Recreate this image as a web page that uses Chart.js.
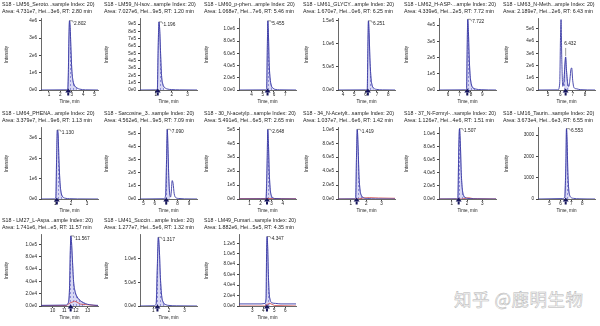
<!DOCTYPE html>
<html>
<head>
<meta charset="utf-8">
<script src="https://cdn.jsdelivr.net/npm/chart.js@4.4.1/dist/chart.umd.min.js"></script>
<style>
  body { margin: 0; background: #fff; width: 600px; height: 326px; overflow: hidden; position: relative; }
  canvas { position: absolute; }
  #mark {
    position: absolute; left: 454px; top: 286px;
    font-family: "Noto Sans CJK SC", sans-serif; font-size: 17.5px; letter-spacing: 0.5px;
    color: #fafafa; -webkit-text-stroke: 0.5px #b4b4b4; white-space: nowrap;
  }
</style>
</head>
<body>
<div id="mark">知乎 @鹿明生物</div>
<script>
// panel headers
const titles = [
  'S18 - LM56_Seroto...sample Index: 20)', 'S18 - LM59_N-Isov...sample Index: 20)',
  'S18 - LM60_p-phen...ample Index: 20)', 'S18 - LM61_GLYCY...ample Index: 20)',
  'S18 - LM62_H-ASP-...ample Index: 20)', 'S18 - LM63_N-Meth...ample Index: 20)',
  'S18 - LM64_PHENA...ample Index: 20)', 'S18 - Sarcosine_3...sample Index: 20)',
  'S18 - 30_N-acetylp...sample Index: 20)', 'S18 - 34_N-Acetylt...sample Index: 20)',
  'S18 - 37_N-Formyl-...sample Index: 20)', 'S18 - LM16_Taurin...sample Index: 20)',
  'S18 - LM27_L-Aspa...ample Index: 20)', 'S18 - LM41_Succin...ample Index: 20)',
  'S18 - LM49_Fumari...sample Index: 20)'
];
const subtitles = [
  'Area: 4.731e7, Hei...3e6, RT: 2.80 min', 'Area: 7.027e6, Hei...9e5, RT: 1.20 min',
  'Area: 1.068e7, Hei...7e6, RT: 5.46 min', 'Area: 1.670e7, Hei...0e6, RT: 6.25 min',
  'Area: 4.339e6, Hei...2e5, RT: 7.72 min', 'Area: 2.189e7, Hei...2e6, RT: 6.43 min',
  'Area: 3.379e7, Hei...9e6, RT: 1.13 min', 'Area: 4.562e6, Hei...9e5, RT: 7.09 min',
  'Area: 5.491e6, Hei...6e5, RT: 2.65 min', 'Area: 1.037e7, Hei...6e6, RT: 1.42 min',
  'Area: 1.126e7, Hei...4e6, RT: 1.51 min', 'Area: 3.673e4, Hei...6e3, RT: 6.55 min',
  'Area: 1.741e6, Hei...e5, RT: 11.57 min', 'Area: 1.277e7, Hei...5e6, RT: 1.32 min',
  'Area: 1.882e6, Hei...5e5, RT: 4.35 min'
];

// axes
const xRanges = [
  [0.3, 5.3], [0, 3.6], [2.9, 7.95], [3.56, 8.6], [5.2, 10.2], [4.2, 8.8],
  [0.1, 3.7], [4.7, 9.7], [0.05, 5.2], [0.17, 3.87], [0.16, 3.9], [3.96, 9.15],
  [9.0, 13.9], [0.14, 3.8], [1.8, 6.96]
];
const xTickValues = [
  [1, 2, 3, 4, 5], [1, 2, 3], [4, 5, 6, 7], [4, 5, 6, 7, 8], [6, 7, 8, 9], [5, 6, 7, 8],
  [1, 2, 3], [5, 6, 7, 8, 9], [1, 2, 3, 4], [1, 2, 3], [1, 2, 3], [5, 6, 7, 8],
  [10, 11, 12, 13], [1, 2, 3], [3, 4, 5, 6]
];
const yMaxes = [4.1e6, 9.7e5, 1.16e6, 1.54e6, 4.37e5, 5.8e6, 3.5e6, 5.4e5, 5.1e5, 1.02e6, 1.08e6, 3330, 1.155e5, 1.5e6, 1.36e5];
const yTickValues = [
  [0, 1e6, 2e6, 3e6, 4e6],
  [0, 1e5, 2e5, 3e5, 4e5, 5e5, 6e5, 7e5, 8e5, 9e5],
  [0, 2e5, 4e5, 6e5, 8e5, 1e6],
  [0, 5e5, 1e6, 1.5e6],
  [0, 1e5, 2e5, 3e5, 4e5],
  [0, 1e6, 2e6, 3e6, 4e6, 5e6],
  [0, 1e6, 2e6, 3e6],
  [0, 1e5, 2e5, 3e5, 4e5, 5e5],
  [0, 1e5, 2e5, 3e5, 4e5, 5e5],
  [0, 2e5, 4e5, 6e5, 8e5, 1e6],
  [0, 2e5, 4e5, 6e5, 8e5, 1e6],
  [0, 1000, 2000, 3000],
  [0, 2e4, 4e4, 6e4, 8e4, 1e5],
  [0, 5e5, 1e6],
  [0, 2e4, 4e4, 6e4, 8e4, 1e5, 1.2e5]
];
const yTickLabels = [
  ['0e0', '1e6', '2e6', '3e6', '4e6'],
  ['0e0', '1e5', '2e5', '3e5', '4e5', '5e5', '6e5', '7e5', '8e5', '9e5'],
  ['0.0e0', '2.0e5', '4.0e5', '6.0e5', '8.0e5', '1.0e6'],
  ['0.0e0', '5.0e5', '1.0e6', '1.5e6'],
  ['0e0', '1e5', '2e5', '3e5', '4e5'],
  ['0e0', '1e6', '2e6', '3e6', '4e6', '5e6'],
  ['0e0', '1e6', '2e6', '3e6'],
  ['0e0', '1e5', '2e5', '3e5', '4e5', '5e5'],
  ['0e0', '1e5', '2e5', '3e5', '4e5', '5e5'],
  ['0.0e0', '2.0e5', '4.0e5', '6.0e5', '8.0e5', '1.0e6'],
  ['0.0e0', '2.0e5', '4.0e5', '6.0e5', '8.0e5', '1.0e6'],
  ['0', '1000', '2000', '3000'],
  ['0.0e0', '2.0e4', '4.0e4', '6.0e4', '8.0e4', '1.0e5'],
  ['0.0e0', '5.0e5', '1.0e6'],
  ['0.0e0', '2.0e4', '4.0e4', '6.0e4', '8.0e4', '1.0e5', '1.2e5']
];

// chromatogram traces (time, intensity)
const traceTimes = [
  [0.3, 2.5, 2.65, 2.7, 2.74, 2.8, 2.86, 2.92, 3.0, 3.1, 3.25, 3.45, 3.7, 4.2, 5.3],
  [0, 1.0, 1.1, 1.14, 1.2, 1.25, 1.3, 1.36, 1.44, 1.55, 1.7, 2.0, 2.5, 3.6],
  [2.9, 5.2, 5.35, 5.41, 5.455, 5.51, 5.57, 5.65, 5.75, 5.9, 6.1, 6.5, 7.95],
  [3.56, 6.0, 6.15, 6.2, 6.251, 6.31, 6.38, 6.47, 6.58, 6.72, 7.0, 7.5, 8.6],
  [5.2, 7.5, 7.62, 7.67, 7.722, 7.78, 7.84, 7.92, 8.02, 8.15, 8.4, 8.9, 10.2],
  [4.2, 5.8, 5.95, 6.02, 6.06, 6.12, 6.2, 6.3, 6.38, 6.43, 6.5, 6.6, 6.7, 6.78, 6.86, 6.92, 7.0, 7.1, 7.3, 7.6, 8.8],
  [0.1, 0.95, 1.04, 1.09, 1.13, 1.18, 1.23, 1.3, 1.38, 1.48, 1.62, 1.9, 2.4, 3.7],
  [4.7, 6.8, 6.95, 7.03, 7.09, 7.15, 7.22, 7.3, 7.38, 7.45, 7.52, 7.6, 7.7, 7.85, 8.1, 8.6, 9.7],
  [0.05, 2.3, 2.5, 2.6, 2.648, 2.71, 2.78, 2.87, 2.97, 3.1, 3.4, 3.9, 5.2],
  [0.17, 1.2, 1.32, 1.37, 1.419, 1.47, 1.53, 1.6, 1.69, 1.82, 2.1, 2.6, 3.87],
  [0.16, 1.3, 1.4, 1.46, 1.507, 1.56, 1.62, 1.69, 1.78, 1.92, 2.2, 2.7, 3.9],
  [3.96, 6.2, 6.4, 6.5, 6.553, 6.61, 6.67, 6.75, 6.84, 6.97, 7.2, 7.7, 9.15],
  [9.0, 11.1, 11.35, 11.45, 11.52, 11.567, 11.62, 11.7, 11.8, 11.95, 12.1, 12.3, 12.5, 12.8, 13.2, 13.9],
  [0.14, 1.05, 1.18, 1.25, 1.317, 1.38, 1.45, 1.53, 1.63, 1.78, 2.0, 2.5, 3.8],
  [1.8, 3.8, 4.15, 4.25, 4.3, 4.347, 4.4, 4.46, 4.53, 4.63, 4.8, 5.1, 5.6, 6.96]
];
const traceValues = [
  [0, 1e4, 5e4, 1.0e6, 2.7e6, 4.0e6, 3.6e6, 2.5e6, 1.2e6, 5.5e5, 2.5e5, 1.2e5, 5e4, 1e4, 0],
  [0, 2000, 2e4, 5e5, 9.3e5, 8e5, 5e5, 2e5, 8e4, 3.5e4, 1.5e4, 6000, 2000, 0],
  [0, 2000, 2e4, 7e5, 1.13e6, 9e5, 4.5e5, 2e5, 8e4, 3e4, 1e4, 3000, 0],
  [0, 3000, 3e4, 9e5, 1.5e6, 1.25e6, 7e5, 2.8e5, 1e5, 4e4, 1.2e4, 3000, 0],
  [0, 1000, 8000, 2.5e5, 4.35e5, 3.6e5, 2.2e5, 1e5, 4e4, 1.6e4, 6000, 2000, 0],
  [0, 1e4, 5e5, 4.5e6, 5.75e6, 2.5e6, 3e5, 8e5, 2.2e6, 2.7e6, 1.6e6, 5e5, 3e5, 9e5, 1.7e6, 1.8e6, 8e5, 2e5, 1e5, 3e4, 0],
  [0, 5000, 1e5, 2.2e6, 3.4e6, 3.2e6, 2.0e6, 8e5, 2.8e5, 1e5, 4e4, 1.5e4, 5000, 0],
  [0, 2000, 3e4, 3e5, 5.3e5, 4e5, 1.8e5, 4e4, 1.5e4, 6e4, 1.4e5, 1.2e5, 4e4, 1e4, 4000, 1000, 0],
  [0, 1000, 1e4, 3e5, 5.0e5, 4e5, 2e5, 7e4, 2.5e4, 8000, 3000, 1000, 0],
  [0, 2000, 2e4, 6e5, 1.0e6, 7.8e5, 3.5e5, 1.3e5, 5e4, 1.8e4, 6000, 2000, 0],
  [0, 2000, 2e4, 8e5, 1.07e6, 8.5e5, 4e5, 1.5e5, 5e4, 1.8e4, 6000, 2000, 0],
  [0, 20, 100, 1700, 3300, 2700, 1400, 500, 180, 70, 30, 10, 0],
  [1000, 1500, 5000, 2.8e4, 9e4, 1.14e5, 1.05e5, 7.5e4, 4e4, 2.2e4, 1.5e4, 1e4, 7000, 4000, 2000, 1000],
  [0, 5000, 5e4, 8e5, 1.45e6, 1.2e6, 6e5, 2.2e5, 8e4, 3e4, 1.2e4, 4000, 0],
  [4000, 4000, 5000, 1.5e4, 1.05e5, 1.33e5, 1.1e5, 6e4, 2.5e4, 1.1e4, 6000, 5000, 4000, 4000]
];

// second (red) trace, empty where none is visible
const redTimes = [
  [], [], [], [], [], [],
  [], [], [0.05, 2.0, 2.6, 3.0, 5.2], [0.17, 1.5, 1.8, 2.2, 2.8, 3.87], [0.16, 1.7, 1.9, 2.1, 2.4, 3.9], [],
  [9.0, 11.2, 11.5, 11.9, 12.4, 13.9], [], [1.8, 4.1, 4.35, 4.6, 5.0, 6.96]
];
const redValues = [
  [], [], [], [], [], [],
  [], [], [3000, 3000, 4000, 3000, 2000], [0, 0, 1.5e4, 2e4, 1.5e4, 1e4], [0, 0, 1.2e4, 2e4, 5000, 0], [],
  [500, 800, 5000, 8000, 3000, 500], [], [0, 0, 3000, 5000, 1000, 0]
];

// peak labels, RT arrows and integration windows
const rtTimes = [2.802, 1.196, 5.455, 6.251, 7.722, 6.432, 1.130, 7.090, 2.648, 1.419, 1.507, 6.553, 11.567, 1.317, 4.347];
const rtLabels = ['2.802', '1.196', '5.455', '6.251', '7.722', '6.432', '1.130', '7.090', '2.648', '1.419', '1.507', '6.553', '11.567', '1.317', '4.347'];
const arrowTimes = [2.69, 1.12, 5.43, 6.2, 7.68, 6.43, 1.1, 7.0, 2.58, 1.38, 1.45, 6.48, 11.55, 1.26, 4.33];
const integStart = [2.62, 1.08, 5.3, 6.1, 7.6, 6.22, 1.0, 6.95, 2.45, 1.3, 1.38, 6.38, 11.3, 1.15, 4.15];
const integEnd = [3.5, 1.6, 5.9, 6.8, 8.4, 6.7, 1.6, 7.35, 3.1, 1.9, 1.95, 6.95, 12.9, 1.9, 4.75];

const FONT = '"Liberation Sans", Arial, sans-serif';
const colLeft = [0, 99, 198, 297, 398, 497];
const rowTop = [0, 109, 216];
const padLeft = [2, 5, 6, 6, 6, 6];
const yTitlePad = [2.3, 0, 0, 1, 0, 1];

function makeHatch() {
  const c = document.createElement('canvas');
  c.width = 3; c.height = 4;
  const g = c.getContext('2d');
  g.fillStyle = '#d8d8f4';
  g.fillRect(0, 0, 3, 4);
  g.fillStyle = '#8e8ed8';
  g.fillRect(1, 0, 1, 2);
  return g.createPattern(c, 'repeat');
}

// peak label with its little leader, and the RT arrow under the axis
const peakMark = {
  id: 'peakMark',
  afterDatasetsDraw(chart, args, opts) {
    const { ctx, scales: { x, y } } = chart;
    const pts = opts.points;
    let best = pts[0];
    pts.forEach(p => { if (Math.abs(p.x - opts.rt) < Math.abs(best.x - opts.rt)) best = p; });
    const px = x.getPixelForValue(opts.rt);
    const py = y.getPixelForValue(best.y);
    ctx.save();
    ctx.strokeStyle = '#555';
    ctx.lineWidth = 0.6;
    ctx.fillStyle = '#222';
    ctx.font = '4.8px ' + FONT;
    ctx.textBaseline = 'middle';
    ctx.beginPath();
    if (opts.above) {
      ctx.moveTo(px, py - 1);
      ctx.lineTo(px, py - 9);
      ctx.stroke();
      ctx.fillText(opts.label, px - 1.5, py - 13);
    } else {
      ctx.moveTo(px, py);
      ctx.lineTo(px + 3, py);
      ctx.lineTo(px + 4, py + 2);
      ctx.stroke();
      ctx.fillText(opts.label, px + 4.5, py + 2.5);
    }
    const ax = x.getPixelForValue(opts.arrow);
    const ay = y.bottom;
    ctx.fillStyle = '#16165e';
    ctx.beginPath();
    ctx.moveTo(ax, ay - 1.5);
    ctx.lineTo(ax - 3, ay + 2.5);
    ctx.lineTo(ax + 3, ay + 2.5);
    ctx.closePath();
    ctx.fill();
    ctx.fillRect(ax - 1, ay + 2.5, 2, 3);
    ctx.restore();
  }
};

titles.forEach((title, i) => {
  const col = i % 6, row = Math.floor(i / 6);
  const cv = document.createElement('canvas');
  cv.width = 100;
  cv.height = 107;
  cv.style.left = colLeft[col] + 'px';
  cv.style.top = rowTop[row] + 'px';
  document.body.appendChild(cv);

  const trace = traceTimes[i].map((t, k) => ({ x: t, y: traceValues[i][k] }));
  const area = trace.filter(p => p.x >= integStart[i] && p.x <= integEnd[i]);
  const red = redTimes[i].map((t, k) => ({ x: t, y: redValues[i][k] }));
  const small = { family: FONT, size: 4.6 };

  new Chart(cv, {
    type: 'line',
    data: {
      datasets: [
        { data: trace, borderColor: '#3838a4', borderWidth: 0.9, pointRadius: 0, fill: false, cubicInterpolationMode: 'monotone', order: 0 },
        { data: red, borderColor: '#d04848', borderWidth: 0.8, pointRadius: 0, fill: false, order: 1 },
        { data: area, borderColor: '#7c7cc8', borderWidth: 0.6, backgroundColor: makeHatch(), fill: 'origin', pointRadius: 0, cubicInterpolationMode: 'monotone', order: 2 }
      ]
    },
    options: {
      responsive: false,
      animation: false,
      devicePixelRatio: 1,
      layout: { padding: { left: padLeft[col], right: 2, top: 0, bottom: 0 } },
      plugins: {
        legend: { display: false },
        tooltip: { enabled: false },
        title: {
          display: true,
          text: [title, subtitles[i]],
          align: 'start',
          color: '#222',
          font: { family: FONT, size: 5.3, lineHeight: 1.32, weight: 'normal' },
          padding: { top: 1.5, bottom: 3.5 }
        },
        peakMark: { rt: rtTimes[i], label: rtLabels[i], arrow: arrowTimes[i], points: trace, above: i === 5 }
      },
      scales: {
        x: {
          type: 'linear',
          min: xRanges[i][0],
          max: xRanges[i][1],
          afterBuildTicks: s => { s.ticks = xTickValues[i].map(v => ({ value: v })); },
          afterFit: s => { s.height = 17; },
          ticks: { font: small, color: '#222', padding: 0, maxRotation: 0, autoSkip: false },
          grid: { drawOnChartArea: false, tickLength: 2, color: '#444' },
          border: { color: '#444', width: 0.8 },
          title: { display: true, text: 'Time, min', color: '#222', font: small, padding: { top: 0, bottom: 2.3 } }
        },
        y: {
          min: 0,
          max: yMaxes[i],
          afterBuildTicks: s => { s.ticks = yTickValues[i].map(v => ({ value: v })); },
          afterFit: s => { s.width = 41 - padLeft[col]; },
          ticks: { font: small, color: '#222', padding: 2, autoSkip: false, callback: (v, k) => yTickLabels[i][k] },
          grid: { drawOnChartArea: false, tickLength: 2, color: '#444' },
          border: { color: '#444', width: 0.8 },
          title: { display: true, text: 'Intensity', color: '#222', font: small, padding: { top: yTitlePad[col], bottom: 0 } }
        }
      }
    },
    plugins: [peakMark]
  });
});
</script>
</body>
</html>
